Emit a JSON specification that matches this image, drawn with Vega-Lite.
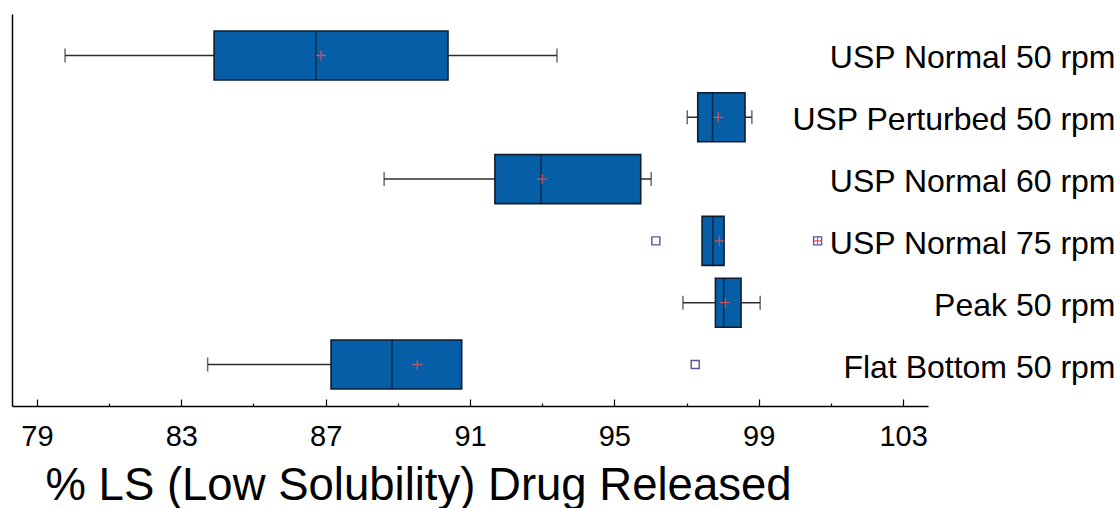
{
  "$schema": "https://vega.github.io/schema/vega-lite/v6.json",
  "width": 916,
  "height": 392,
  "padding": {"left": 12, "top": 14, "right": 0, "bottom": 0},
  "background": "white",
  "config": {
    "view": {"stroke": null},
    "font": "Liberation Sans"
  },
  "datasets": {
    "boxes": [
      {"group": "USP Normal 50 rpm", "lo": 79.78, "q1": 83.91, "med": 86.73, "q3": 90.39, "hi": 93.41, "mean": 86.87},
      {"group": "USP Perturbed 50 rpm", "lo": 97.02, "q1": 97.31, "med": 97.72, "q3": 98.62, "hi": 98.81, "mean": 97.88},
      {"group": "USP Normal 60 rpm", "lo": 88.62, "q1": 91.69, "med": 92.97, "q3": 95.73, "hi": 96.02, "mean": 93.0},
      {"group": "USP Normal 75 rpm", "lo": 97.43, "q1": 97.43, "med": 97.73, "q3": 98.04, "hi": 98.04, "mean": 97.91},
      {"group": "Peak 50 rpm", "lo": 96.9, "q1": 97.8, "med": 98.03, "q3": 98.51, "hi": 99.04, "mean": 98.07},
      {"group": "Flat Bottom 50 rpm", "lo": 83.73, "q1": 87.15, "med": 88.84, "q3": 90.77, "hi": 90.77, "mean": 89.54}
    ],
    "outliers": [
      {"group": "USP Normal 75 rpm", "value": 96.15, "far": false},
      {"group": "USP Normal 75 rpm", "value": 100.63, "far": true},
      {"group": "Flat Bottom 50 rpm", "value": 97.24, "far": false}
    ]
  },
  "layer": [
    {
      "data": {"name": "boxes"},
      "mark": {"type": "rule", "color": "#2e2e2e", "strokeWidth": 1.5},
      "encoding": {
        "y": {
          "field": "group", "type": "nominal",
          "sort": ["USP Normal 50 rpm", "USP Perturbed 50 rpm", "USP Normal 60 rpm", "USP Normal 75 rpm", "Peak 50 rpm", "Flat Bottom 50 rpm"],
          "scale": {"paddingInner": 0.207, "paddingOuter": 0.275},
          "axis": {
            "orient": "left", "title": null, "ticks": false,
            "domain": true, "domainColor": "#000000", "domainWidth": 1.5,
            "labelAlign": "right", "labelBaseline": "middle", "labelPadding": -1103,
            "labelOffset": 3,
            "labelFontSize": 32, "labelColor": "#000000", "labelLimit": 0,
            "labelFont": "Liberation Sans", "grid": false
          }
        },
        "x": {
          "field": "lo", "type": "quantitative",
          "scale": {"domain": [78.31, 103.69], "nice": false, "zero": false},
          "axis": {
            "orient": "bottom",
            "values": [79, 80, 81, 82, 83, 84, 85, 86, 87, 88, 89, 90, 91, 92, 93, 94, 95, 96, 97, 98, 99, 100, 101, 102, 103],
            "labelExpr": "datum.value % 4 == 3 ? datum.label : ''",
            "tickSize": {"condition": {"test": "datum.value % 4 == 3", "value": -7}, "value": -3},
            "tickColor": "#000000", "tickWidth": 1.2,
            "domain": true, "domainColor": "#000000", "domainWidth": 1.5,
            "labelFontSize": 29, "labelColor": "#000000", "labelFont": "Liberation Sans",
            "labelBaseline": "alphabetic", "labelPadding": 46,
            "labelOverlap": false, "labelFlush": false, "grid": false,
            "title": "% LS (Low Solubility) Drug Released",
            "titleFontSize": 45.5, "titleFont": "Liberation Sans", "titleFontWeight": "normal",
            "titleColor": "#000000", "titleAnchor": "start", "titleAlign": "left",
            "titleBaseline": "alphabetic", "titleX": 33, "titleY": 93
          }
        },
        "x2": {"field": "hi"}
      }
    },
    {
      "data": {"name": "boxes"},
      "transform": [{"filter": "datum.lo < datum.q1"}],
      "mark": {"type": "tick", "color": "#2e2e2e", "size": 14, "thickness": 1.5},
      "encoding": {
        "y": {"field": "group", "type": "nominal", "sort": ["USP Normal 50 rpm", "USP Perturbed 50 rpm", "USP Normal 60 rpm", "USP Normal 75 rpm", "Peak 50 rpm", "Flat Bottom 50 rpm"]},
        "x": {"field": "lo", "type": "quantitative"}
      }
    },
    {
      "data": {"name": "boxes"},
      "transform": [{"filter": "datum.hi > datum.q3"}],
      "mark": {"type": "tick", "color": "#2e2e2e", "size": 14, "thickness": 1.5},
      "encoding": {
        "y": {"field": "group", "type": "nominal", "sort": ["USP Normal 50 rpm", "USP Perturbed 50 rpm", "USP Normal 60 rpm", "USP Normal 75 rpm", "Peak 50 rpm", "Flat Bottom 50 rpm"]},
        "x": {"field": "hi", "type": "quantitative"}
      }
    },
    {
      "data": {"name": "boxes"},
      "mark": {"type": "bar", "size": 49, "fill": "#065fa6", "stroke": "#101c30", "strokeWidth": 1.6},
      "encoding": {
        "y": {"field": "group", "type": "nominal", "sort": ["USP Normal 50 rpm", "USP Perturbed 50 rpm", "USP Normal 60 rpm", "USP Normal 75 rpm", "Peak 50 rpm", "Flat Bottom 50 rpm"]},
        "x": {"field": "q1", "type": "quantitative"},
        "x2": {"field": "q3"}
      }
    },
    {
      "data": {"name": "boxes"},
      "mark": {"type": "tick", "color": "#0c1626", "size": 49, "thickness": 1.6},
      "encoding": {
        "y": {"field": "group", "type": "nominal", "sort": ["USP Normal 50 rpm", "USP Perturbed 50 rpm", "USP Normal 60 rpm", "USP Normal 75 rpm", "Peak 50 rpm", "Flat Bottom 50 rpm"]},
        "x": {"field": "med", "type": "quantitative"}
      }
    },
    {
      "data": {"name": "boxes"},
      "mark": {"type": "point", "shape": "M-1,0H1M0,-1V1", "size": 100, "filled": false, "stroke": "#e0505a", "strokeWidth": 1.3, "opacity": 0.9},
      "encoding": {
        "y": {"field": "group", "type": "nominal", "sort": ["USP Normal 50 rpm", "USP Perturbed 50 rpm", "USP Normal 60 rpm", "USP Normal 75 rpm", "Peak 50 rpm", "Flat Bottom 50 rpm"]},
        "x": {"field": "mean", "type": "quantitative"}
      }
    },
    {
      "data": {"name": "outliers"},
      "mark": {"type": "point", "shape": "square", "size": 64, "filled": false, "stroke": "#55559a", "strokeWidth": 1.4, "opacity": 1},
      "encoding": {
        "y": {"field": "group", "type": "nominal", "sort": ["USP Normal 50 rpm", "USP Perturbed 50 rpm", "USP Normal 60 rpm", "USP Normal 75 rpm", "Peak 50 rpm", "Flat Bottom 50 rpm"]},
        "x": {"field": "value", "type": "quantitative"}
      }
    },
    {
      "data": {"name": "outliers"},
      "transform": [{"filter": "datum.far"}],
      "mark": {"type": "point", "shape": "M-1,0H1M0,-1V1", "size": 64, "filled": false, "stroke": "#e0505a", "strokeWidth": 1.2, "opacity": 1},
      "encoding": {
        "y": {"field": "group", "type": "nominal", "sort": ["USP Normal 50 rpm", "USP Perturbed 50 rpm", "USP Normal 60 rpm", "USP Normal 75 rpm", "Peak 50 rpm", "Flat Bottom 50 rpm"]},
        "x": {"field": "value", "type": "quantitative"}
      }
    }
  ]
}
